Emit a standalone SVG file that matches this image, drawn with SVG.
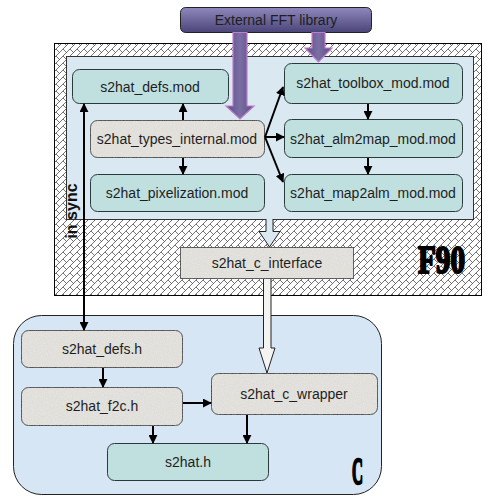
<svg xmlns="http://www.w3.org/2000/svg" width="493" height="499" viewBox="0 0 493 499">
<style>
.lbl{font-family:"Liberation Sans",Arial,sans-serif;font-size:14px;fill:#1e1e1e;text-anchor:middle}
.teal{fill:#c0e0e0;stroke:#2a3a3a;stroke-width:1}
.grey{fill:#e9e7e2;stroke:#333;stroke-width:1}
.con{stroke:#000;stroke-width:2;fill:none}
.big{font-family:"Liberation Serif","Times New Roman",serif;font-weight:bold;fill:#000;stroke:#000;stroke-linejoin:round}
</style>
<defs>
<pattern id="hatch" patternUnits="userSpaceOnUse" width="7" height="7">
<rect width="7" height="7" fill="#fff"/>
<path d="M-1,8 L8,-1 M-1,1 L1,-1 M6,8 L8,6" stroke="#3a3a3a" stroke-width="0.7"/>
<path d="M0,0 L3.5,3.5" stroke="#3a3a3a" stroke-width="0.7"/>
</pattern>
<linearGradient id="fft" x1="0" y1="0" x2="0" y2="1">
<stop offset="0" stop-color="#8e88bd"/>
<stop offset="1" stop-color="#4a4478"/>
</linearGradient>
<linearGradient id="parr" x1="0" y1="0" x2="1" y2="0">
<stop offset="0" stop-color="#5a4e86"/>
<stop offset="0.5" stop-color="#7a6ea4"/>
<stop offset="1" stop-color="#5a4e86"/>
</linearGradient>
<filter id="tex" x="0" y="0" width="1" height="1">
<feTurbulence type="fractalNoise" baseFrequency="0.9" numOctaves="2" seed="3" result="n"/>
<feColorMatrix in="n" type="matrix" values="0 0 0 0 0.5  0 0 0 0 0.5  0 0 0 0 0.5  0 0 0 0.35 0" result="g"/>
<feComposite in="g" in2="SourceGraphic" operator="in" result="gi"/>
<feMerge><feMergeNode in="SourceGraphic"/><feMergeNode in="gi"/></feMerge>
</filter>
<marker id="ah" viewBox="0 0 10 10" refX="9" refY="5" markerWidth="4.5" markerHeight="4.5" orient="auto-start-reverse" markerUnits="strokeWidth">
<path d="M0,0 L10,5 L0,10 Z" fill="#000"/>
</marker>
</defs>

<g id="f90-frame">
<rect x="54.5" y="43.5" width="427" height="252" fill="url(#hatch)" stroke="#000" stroke-width="1"/>
<rect x="66.5" y="56.5" width="407" height="163" fill="#dae8f2" stroke="#333" stroke-width="1"/>
<text class="big" x="418" y="273" font-size="40" stroke-width="2.2" textLength="47" lengthAdjust="spacingAndGlyphs">F90</text>
</g>

<g id="c-frame">
<rect x="13.5" y="315.5" width="368" height="179" rx="28" fill="#d7e6f5" stroke="#222" stroke-width="1"/>
<text class="big" x="352" y="484" font-size="38" stroke-width="2.4" textLength="11" lengthAdjust="spacingAndGlyphs">C</text>
</g>

<g id="n-fft">
<rect x="180.5" y="7.5" width="191" height="25" rx="5" fill="url(#fft)" stroke="#222" stroke-width="1"/>
<text class="lbl" x="276" y="25" fill="#15132a">External FFT library</text>
</g>

<g id="n-defs-mod"><rect class="teal" x="72.5" y="69.5" width="156" height="34" rx="7"/><text class="lbl" x="150" y="91.5">s2hat_defs.mod</text></g>
<g id="n-types"><rect class="grey" x="90.5" y="120.5" width="174" height="37" rx="7" filter="url(#tex)"/><text class="lbl" x="177" y="143.5">s2hat_types_internal.mod</text></g>
<g id="n-pix"><rect class="teal" x="90.5" y="174.5" width="174" height="37" rx="7"/><text class="lbl" x="177" y="197.5">s2hat_pixelization.mod</text></g>
<g id="n-toolbox"><rect class="teal" x="284.5" y="63.5" width="178" height="40" rx="7"/><text class="lbl" x="373" y="88">s2hat_toolbox_mod.mod</text></g>
<g id="n-alm2map"><rect class="teal" x="284.5" y="119.5" width="178" height="38" rx="7"/><text class="lbl" x="373" y="143.5">s2hat_alm2map_mod.mod</text></g>
<g id="n-map2alm"><rect class="teal" x="284.5" y="174.5" width="178" height="37" rx="7"/><text class="lbl" x="373" y="197.5">s2hat_map2alm_mod.mod</text></g>
<g id="n-cinterface"><rect class="grey" x="180.5" y="247.5" width="173" height="31" filter="url(#tex)"/><text class="lbl" x="267" y="268">s2hat_c_interface</text></g>
<g id="n-defs-h"><rect class="grey" x="21.5" y="330.5" width="161" height="37" rx="7" filter="url(#tex)"/><text class="lbl" x="102" y="353.5">s2hat_defs.h</text></g>
<g id="n-f2c"><rect class="grey" x="21.5" y="387.5" width="161" height="38" rx="7" filter="url(#tex)"/><text class="lbl" x="102" y="411">s2hat_f2c.h</text></g>
<g id="n-wrapper"><rect class="grey" x="211.5" y="373.5" width="166" height="41" rx="7" filter="url(#tex)"/><text class="lbl" x="294" y="399">s2hat_c_wrapper</text></g>
<g id="n-s2hat-h"><rect class="teal" x="107.5" y="443.5" width="161" height="37" rx="7"/><text class="lbl" x="188" y="467">s2hat.h</text></g>

<g id="connectors">
<path d="M266,219 V231.5 H259 L269.5,247 L280,231.5 H273 V219" fill="#dae8f2" stroke="#222" stroke-width="1"/>
<path d="M263.5,279 V348 H259 L267,373 L275,348 H271 V279" fill="#f3f3f1" stroke="#222" stroke-width="1"/>
<g stroke="#c27ccc" stroke-width="1.2" fill="url(#parr)">
<path d="M233,32.5 V106 H226 L240,119 L254,106 H247 V32.5 Z"/>
<path d="M312,32.5 V48 H305 L318.5,62 L332,48 H325 V32.5 Z"/>
</g>
<line class="con" x1="183" y1="120" x2="183" y2="104" marker-end="url(#ah)"/>
<line class="con" x1="183" y1="158" x2="183" y2="174" marker-end="url(#ah)"/>
<line class="con" x1="265" y1="137" x2="283" y2="87" marker-end="url(#ah)"/>
<line class="con" x1="265" y1="137" x2="284" y2="137" marker-end="url(#ah)"/>
<line class="con" x1="265" y1="137" x2="283" y2="182" marker-end="url(#ah)"/>
<line class="con" x1="368" y1="104" x2="368" y2="119" marker-end="url(#ah)"/>
<line class="con" x1="368" y1="158" x2="368" y2="174" marker-end="url(#ah)"/>
<line class="con" x1="84" y1="104" x2="84" y2="330" marker-start="url(#ah)" marker-end="url(#ah)"/>
<line class="con" x1="103" y1="368" x2="103" y2="387" marker-end="url(#ah)"/>
<line class="con" x1="183" y1="403" x2="211" y2="403" marker-end="url(#ah)"/>
<line class="con" x1="153" y1="426" x2="153" y2="443" marker-end="url(#ah)"/>
<line class="con" x1="247" y1="415" x2="247" y2="443" marker-end="url(#ah)"/>
</g>

<g id="label-insync">
<text x="77" y="211" transform="rotate(-90 77 211)" font-family="'Liberation Sans',Arial,sans-serif" font-weight="bold" font-size="16" fill="#111" text-anchor="middle">in sync</text>
</g>
</svg>
